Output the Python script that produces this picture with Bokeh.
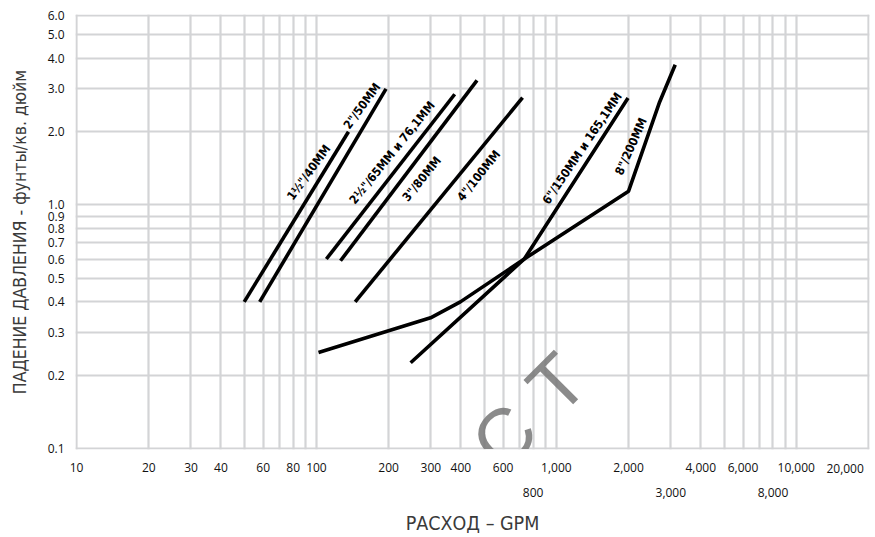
from bokeh.plotting import figure
from bokeh.models import (FixedTicker, LogAxis, HTMLLabel, NumeralTickFormatter,
                          PrintfTickFormatter, ColumnDataSource)
from bokeh.core.properties import value
from bokeh.embed import file_html
from bokeh.resources import INLINE

# ---------------- data ----------------
x_grid = [10, 20, 30, 40, 50, 60, 70, 80, 90,
          100, 200, 300, 400, 500, 600, 700, 800, 900,
          1000, 2000, 3000, 4000, 5000, 6000, 7000, 8000, 9000,
          10000, 20000]
y_grid = [0.1, 0.2, 0.3, 0.4, 0.5, 0.6, 0.7, 0.8, 0.9,
          1.0, 2.0, 3.0, 4.0, 5.0, 6.0]

x_ticks_row1 = [10, 20, 30, 40, 60, 80, 100, 200, 300, 400, 600,
                1000, 2000, 4000, 6000, 10000]
x_ticks_row1_end = [20000]
x_ticks_row2 = [800, 3000, 8000]
y_ticks = y_grid

x_label = "РАСХОД – GPM"
y_label = "ПАДЕНИЕ ДАВЛЕНИЯ - фунты/кв. дюйм"

# pipe-size curves (flow GPM, pressure drop psi)
pipe_40_x = [50, 136]
pipe_40_y = [0.40, 2.0]
pipe_50_x = [58, 195]
pipe_50_y = [0.40, 3.0]
pipe_65_x = [110, 377]
pipe_65_y = [0.60, 2.85]
pipe_80_x = [126, 467]
pipe_80_y = [0.59, 3.25]
pipe_100_x = [145, 723]
pipe_100_y = [0.40, 2.76]
pipe_150_x = [247, 735, 1990]
pipe_150_y = [0.225, 0.60, 2.75]
pipe_200_x = [102, 299, 398, 735, 2000, 2695, 3130]
pipe_200_y = [0.248, 0.344, 0.40, 0.60, 1.14, 2.65, 3.77]

series_x = [pipe_40_x, pipe_50_x, pipe_65_x, pipe_80_x, pipe_100_x, pipe_150_x, pipe_200_x]
series_y = [pipe_40_y, pipe_50_y, pipe_65_y, pipe_80_y, pipe_100_y, pipe_150_y, pipe_200_y]

line_labels = ['1½"/40MM', '2"/50MM', '2½"/65MM и 76,1MM', '3"/80MM',
               '4"/100MM', '6"/150MM и 165,1MM', '8"/200MM']
label_x = [93, 155, 207, 275, 475, 1283, 2050]
label_y = [1.36, 2.55, 1.64, 1.28, 1.32, 1.71, 1.74]
label_angle = [54, 54, 51, 51, 51, 56, 66]

watermark = "ODUCT"

# ---------------- styles ----------------
NARROW = "Liberation Sans Narrow, DejaVu Sans Condensed, sans-serif"
TICKF = "Open Sans"
GRID = "#d3d4d6"
PAD = 1.01

p = figure(width=875, height=537, x_axis_type="log", y_axis_type="log",
           x_range=(x_grid[0] / PAD, x_grid[-1] * PAD),
           y_range=(y_grid[0] / PAD, y_grid[-1] * PAD),
           output_backend="svg", toolbar_location=None,
           min_border_left=75, min_border_right=6, min_border_top=14,
           min_border_bottom=87, outline_line_color=None,
           background_fill_color="white", border_fill_color="white")

p.xgrid.ticker = FixedTicker(ticks=x_grid)
p.ygrid.ticker = FixedTicker(ticks=y_grid)
for g in (p.xgrid[0], p.ygrid[0]):
    g.grid_line_color = GRID
    g.grid_line_width = 2.2
    g.level = "underlay"


def style_axis(ax):
    ax.axis_line_color = None
    ax.major_tick_line_color = None
    ax.minor_tick_line_color = None
    ax.major_tick_in = 0
    ax.major_tick_out = 0
    ax.minor_tick_in = 0
    ax.minor_tick_out = 0
    ax.major_label_text_font = TICKF
    ax.major_label_text_font_size = "12px"
    ax.major_label_text_color = "#111111"
    ax.axis_label_text_font = NARROW
    ax.axis_label_text_font_style = "normal"
    ax.axis_label_text_color = "#3a3a3a"


xa = p.xaxis[0]
xa.ticker = FixedTicker(ticks=x_ticks_row1)
xa.formatter = NumeralTickFormatter(format="0,0")
style_axis(xa)
xa.major_label_standoff = 13

# the last label sits flush left of the 20,000 line (same row as row 1)
xa_end = LogAxis(ticker=FixedTicker(ticks=x_ticks_row1_end),
                 formatter=NumeralTickFormatter(format="0,0"))
style_axis(xa_end)
xa_end.major_label_text_align = "right"
xa_end.major_label_standoff = -11
p.add_layout(xa_end, "below")

xa2 = LogAxis(ticker=FixedTicker(ticks=x_ticks_row2),
              formatter=NumeralTickFormatter(format="0,0"))
style_axis(xa2)
xa2.major_label_standoff = 12
xa2.axis_label = x_label
xa2.axis_label_text_font_size = "19.5px"
xa2.axis_label_standoff = 12
p.add_layout(xa2, "below")

ya = p.yaxis[0]
ya.ticker = FixedTicker(ticks=y_ticks)
ya.formatter = PrintfTickFormatter(format="%.1f")
style_axis(ya)
ya.major_label_standoff = 11
ya.axis_label = y_label
ya.axis_label_text_font_size = "17.5px"
ya.axis_label_standoff = 15

for xs, ys in zip(series_x, series_y):
    p.line(xs, ys, line_color="black", line_width=3.6)

src = ColumnDataSource(dict(x=label_x, y=label_y, text=line_labels, angle=label_angle))
p.text(x="x", y="y", text="text", angle="angle", angle_units="deg", source=src,
       text_align="center", text_baseline="middle",
       text_font=value(NARROW), text_font_size="12px", text_font_style="bold",
       text_color="black")

# watermark (anchored on the last letter, letters stepped along a 45° diagonal)
step = 53
n = len(watermark)
for i, ch in enumerate(watermark):
    k = i - (n - 1)
    p.add_layout(HTMLLabel(x=1010, y=0.184, x_offset=k * step, y_offset=k * step,
                           text=ch, angle=45, angle_units="deg",
                           text_align="center", text_baseline="middle",
                           text_font="Lato", text_font_size="76px",
                           text_color="#777777", text_alpha=0.85))

open("out.html", "w").write(file_html(p, INLINE))
